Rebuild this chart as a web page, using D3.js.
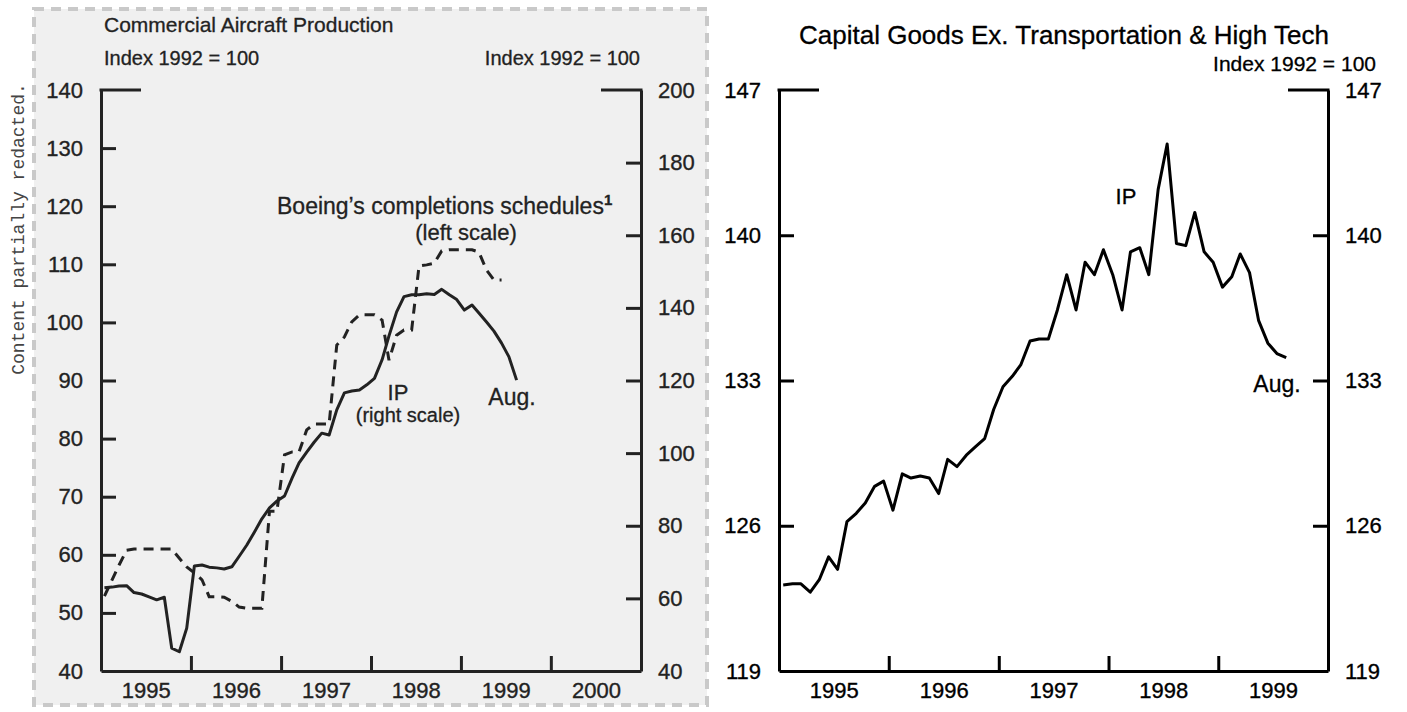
<!DOCTYPE html>
<html>
<head>
<meta charset="utf-8">
<script src="https://cdn.jsdelivr.net/npm/d3@7"></script>
<style>
  body { margin: 0; background: #fff; }
  svg { display: block; font-family: "Liberation Sans", Arial, sans-serif; }
</style>
</head>
<body>
<svg id="chart" width="1407" height="712"></svg>
<script>
// monthly data, Jan 1995 onward
var aircraftIP = [62.9, 63.1, 63.4, 63.5, 61.6, 61.2, 60.4, 59.6, 60.3, 46.3, 45.3, 51.8,
    68.9, 69.2, 68.6, 68.4, 68.1, 68.7, 71.6, 74.7, 78.3, 81.9, 84.9, 86.8,
    88.2, 93.2, 97.3, 100.3, 103.0, 105.5, 105.0, 111.9, 116.6, 117.1, 117.4, 118.8,
    120.6, 125.7, 132.3, 138.9, 143.1, 143.6, 143.6, 143.9, 143.7, 145.1, 143.6, 142.3,
    139.4, 140.8, 138.6, 136.1, 133.6, 130.3, 126.5, 120.1];
var boeingSchedule = [52.9, 55.7, 58.2, 60.8, 61.0, 61.0, 61.0, 61.0, 61.0, 61.0, 59.4, 57.9,
    56.9, 55.7, 52.8, 52.8, 52.7, 52.0, 51.0, 50.8, 50.8, 50.8, 67.5, 67.5,
    77.2, 77.7, 77.7, 81.5, 82.5, 82.5, 82.5, 96.1, 97.5, 100.1, 101.3, 101.3,
    101.3, 100.4, 93.5, 97.8, 98.7, 98.7, 109.7, 109.9, 110.2, 112.3, 112.5, 112.5,
    112.5, 112.5, 112.1, 109.0, 107.3, 107.3];
var capGoodsIP = [123.15, 123.2, 123.2, 122.8, 123.4, 124.5, 123.9, 126.2, 126.6, 127.1, 127.9, 128.15,
    126.75, 128.5, 128.3, 128.4, 128.3, 127.55, 129.2, 128.85, 129.4, 129.8, 130.2, 131.6,
    132.7, 133.2, 133.75, 134.9, 135.0, 135.0, 136.4, 138.1, 136.4, 138.7, 138.1, 139.3,
    138.1, 136.4, 139.2, 139.4, 138.1, 142.2, 144.4, 139.6, 139.5, 141.1, 139.2, 138.7,
    137.5, 138.0, 139.1, 138.2, 135.9, 134.8, 134.3, 134.1];

var aircraftLeftTicks = [140, 130, 120, 110, 100, 90, 80, 70, 60, 50, 40];
var aircraftRightTicks = [200, 180, 160, 140, 120, 100, 80, 60, 40];
var capGoodsTicks = [147, 140, 133, 126, 119];
var aircraftYears = [1995, 1996, 1997, 1998, 1999, 2000];
var capGoodsYears = [1995, 1996, 1997, 1998, 1999];

function monthDate(i) {
    return new Date(1995, i, 15);
}

var svg = d3.select("#chart");

// redaction box behind the left chart
svg.append("rect")
    .attr("x", 34).attr("y", 9)
    .attr("width", 673).attr("height", 696)
    .attr("fill", "#f0f0f0")
    .attr("stroke", "#c9c9c9")
    .attr("stroke-width", 4)
    .attr("stroke-dasharray", "10,7");

svg.append("text")
    .attr("transform", "translate(19,229) rotate(-90)")
    .attr("text-anchor", "middle")
    .attr("dominant-baseline", "middle")
    .style("font-family", "'Liberation Mono', 'DejaVu Sans Mono', monospace")
    .style("font-size", "18px")
    .attr("fill", "#444")
    .text("Content partially redacted.");

function styleAxis(g, color) {
    g.selectAll("path, line").attr("stroke", color).attr("stroke-width", 3);
    g.selectAll("text").attr("fill", color).style("font-size", "22px")
        .attr("stroke", color).attr("stroke-width", 0.35)
        .style("font-family", "'Liberation Sans', Arial, sans-serif");
}

// draws the frame, ticks and labels of one panel
function drawFrame(opts) {
    var x = opts.x, yL = opts.yL, yR = opts.yR, color = opts.color;
    var x0 = x.range()[0], x1 = x.range()[1];
    var yTop = yL.range()[1], yBot = yL.range()[0];
    var g = svg.append("g");

    var leftTicks = opts.leftTicks.slice(1, -1);
    var rightTicks = opts.rightTicks.slice(1, -1);

    var la = g.append("g").attr("transform", "translate(" + x0 + ",0)")
        .call(d3.axisLeft(yL).tickValues(leftTicks).tickSizeInner(-15).tickSizeOuter(0).tickFormat(""));
    styleAxis(la, color);
    var ll = g.append("g").attr("transform", "translate(" + x0 + ",0)")
        .call(d3.axisLeft(yL).tickValues(opts.leftTicks).tickSize(0).tickPadding(18));
    ll.select(".domain").remove();
    styleAxis(ll, color);

    var ra = g.append("g").attr("transform", "translate(" + x1 + ",0)")
        .call(d3.axisRight(yR).tickValues(rightTicks).tickSizeInner(-15).tickSizeOuter(0).tickFormat(""));
    styleAxis(ra, color);
    var rl = g.append("g").attr("transform", "translate(" + x1 + ",0)")
        .call(d3.axisRight(yR).tickValues(opts.rightTicks).tickSize(0).tickPadding(17));
    rl.select(".domain").remove();
    styleAxis(rl, color);

    var bounds = opts.years.slice(1).map(function(y) { return new Date(y, 0, 1); });
    var mids = opts.years.map(function(y) { return new Date(y, 6, 2); });
    var ba = g.append("g").attr("transform", "translate(0," + yBot + ")")
        .call(d3.axisBottom(x).tickValues(bounds).tickSizeInner(-15).tickSizeOuter(0).tickFormat(""));
    styleAxis(ba, color);
    var bl = g.append("g").attr("transform", "translate(0," + yBot + ")")
        .call(d3.axisBottom(x).tickValues(mids).tickSize(0).tickPadding(11).tickFormat(d3.timeFormat("%Y")));
    bl.select(".domain").remove();
    styleAxis(bl, color);

    // short top caps at both sides
    g.append("path")
        .attr("d", "M" + (x0 - 1.5) + "," + yTop + "H" + (x0 + 40) +
            "M" + (x1 - 40) + "," + yTop + "H" + (x1 + 1.5))
        .attr("stroke", color).attr("stroke-width", 3).attr("fill", "none");
    return g;
}

function addText(x, y, str, size, color, anchor) {
    return svg.append("text")
        .attr("x", x).attr("y", y)
        .attr("text-anchor", anchor || "start")
        .attr("fill", color)
        .attr("stroke", color)
        .attr("stroke-width", 0.3)
        .style("font-size", size + "px")
        .text(str);
}

/* left panel: commercial aircraft */
var xA = d3.scaleTime().domain([new Date(1995, 0, 1), new Date(2001, 0, 1)]).range([101, 641]);
var yA = d3.scaleLinear().domain([40, 140]).range([671, 90]);
var yA2 = d3.scaleLinear().domain([40, 200]).range([671, 90]);
var ink = "#222";

drawFrame({ x: xA, yL: yA, yR: yA2, leftTicks: aircraftLeftTicks, rightTicks: aircraftRightTicks,
    years: aircraftYears, color: ink });

svg.append("path")
    .datum(boeingSchedule)
    .attr("fill", "none")
    .attr("stroke", ink)
    .attr("stroke-width", 3)
    .attr("stroke-dasharray", "10,7")
    .attr("d", d3.line().x(function(d, i) { return xA(monthDate(i)); }).y(function(d) { return yA(d); }));

svg.append("path")
    .datum(aircraftIP)
    .attr("fill", "none")
    .attr("stroke", ink)
    .attr("stroke-width", 3)
    .attr("stroke-linejoin", "round")
    .attr("d", d3.line().x(function(d, i) { return xA(monthDate(i)); }).y(function(d) { return yA2(d); }));

addText(104, 32, "Commercial Aircraft Production", 21, ink);
addText(104, 65, "Index 1992 = 100", 20, ink);
addText(640, 65, "Index 1992 = 100", 20, ink, "end");
var boeingLabel = addText(277, 214, "Boeing\u2019s completions schedules", 23, ink);
boeingLabel.append("tspan").attr("dy", -9).style("font-size", "15px").style("font-weight", "bold").text("1");
addText(466, 240, "(left scale)", 22, ink, "middle");
addText(398, 400, "IP", 22, ink, "middle");
addText(408, 422, "(right scale)", 20, ink, "middle");
addText(512, 405, "Aug.", 23, ink, "middle");

/* right panel: capital goods */
var xC = d3.scaleTime().domain([new Date(1995, 0, 1), new Date(2000, 0, 1)]).range([779, 1328]);
var yC = d3.scaleLinear().domain([119, 147]).range([671, 90]);

drawFrame({ x: xC, yL: yC, yR: yC, leftTicks: capGoodsTicks, rightTicks: capGoodsTicks,
    years: capGoodsYears, color: "#000" });

svg.append("path")
    .datum(capGoodsIP)
    .attr("fill", "none")
    .attr("stroke", "#000")
    .attr("stroke-width", 3)
    .attr("stroke-linejoin", "round")
    .attr("d", d3.line().x(function(d, i) { return xC(monthDate(i)); }).y(function(d) { return yC(d); }));

addText(1064, 44, "Capital Goods Ex. Transportation & High Tech", 26, "#000", "middle");
addText(1376, 71, "Index 1992 = 100", 21, "#000", "end");
addText(1126, 204, "IP", 22, "#000", "middle");
addText(1277, 392, "Aug.", 23, "#000", "middle");
</script>
</body>
</html>
